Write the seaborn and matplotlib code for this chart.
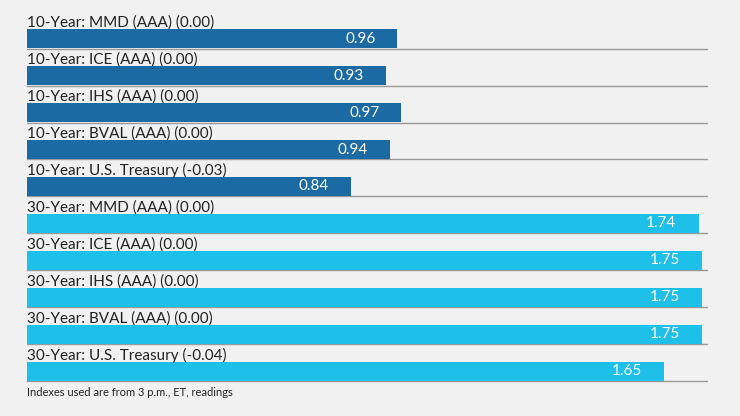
import matplotlib
matplotlib.use("Agg")
import matplotlib.pyplot as plt
import seaborn as sns
import pandas as pd

# values
labels = [
    "10-Year: MMD (AAA) (0.00)",
    "10-Year: ICE (AAA) (0.00)",
    "10-Year: IHS (AAA) (0.00)",
    "10-Year: BVAL (AAA) (0.00)",
    "10-Year: U.S. Treasury (-0.03)",
    "30-Year: MMD (AAA) (0.00)",
    "30-Year: ICE (AAA) (0.00)",
    "30-Year: IHS (AAA) (0.00)",
    "30-Year: BVAL (AAA) (0.00)",
    "30-Year: U.S. Treasury (-0.04)",
]
yields = [0.96, 0.93, 0.97, 0.94, 0.84, 1.74, 1.75, 1.75, 1.75, 1.65]
tenor = ["10-Year"] * 5 + ["30-Year"] * 5
note = "Indexes used are from 3 p.m., ET, readings"

df = pd.DataFrame({"Label": labels, "Yield": yields, "Tenor": tenor})

bg = "#f0f1f0"
sns.set_theme(style="white")
plt.rcParams["font.family"] = ["Lato", "DejaVu Sans"]

fig = plt.figure(figsize=(7.4, 4.16), dpi=100, facecolor=bg)
ax = fig.add_axes([27 / 740, 34 / 416, 680 / 740, 370 / 416])
ax.set_facecolor(bg)

sns.barplot(data=df, x="Yield", y="Label", hue="Tenor", dodge=False,
            palette={"10-Year": "#1b6aa4", "30-Year": "#1ebfe9"},
            saturation=1, width=0.52, legend=False, ax=ax, orient="h",
            edgecolor="none", linewidth=0)

ax.set_xlim(0, 1.762)
ax.set_ylim(9.29, -0.72)

for i, (lab, val) in enumerate(zip(labels, yields)):
    ax.axhline(i + 0.27, color="#9a9a9a", lw=1, zorder=0, clip_on=False)
    ax.text(0, i - 0.31, lab, va="baseline", ha="left", fontsize=11,
            color="#222222")
    ax.annotate(f"{val:.2f}", xy=(val, i), xytext=(-22, 0),
                textcoords="offset pixels", ha="right", va="center",
                color="white", fontsize=11)

ax.set_xlabel("")
ax.set_ylabel("")
ax.set_xticks([])
ax.set_yticks([])
for s in ax.spines.values():
    s.set_visible(False)

fig.text(27 / 740, 1 - 392 / 416, note, fontsize=8, va="center",
         ha="left", color="#222222")

fig.savefig("out.png", dpi=100, facecolor=bg)
